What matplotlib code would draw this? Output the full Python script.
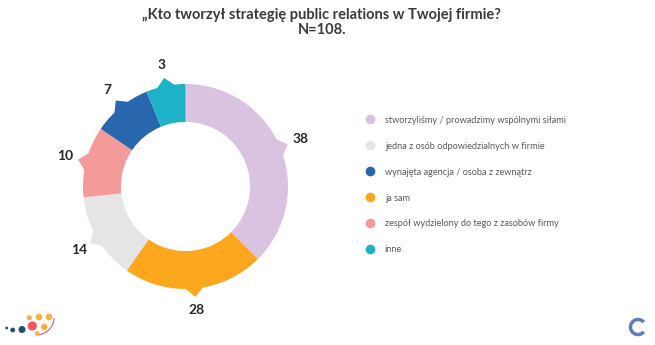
import matplotlib
matplotlib.use('Agg')
import matplotlib.pyplot as plt
from matplotlib.patches import Polygon, Circle, Arc
from matplotlib.lines import Line2D
import numpy as np

plt.rcParams['font.family'] = ['Lato', 'DejaVu Sans']

# Data (clockwise from 12 o'clock)
categories = ['stworzyliśmy / prowadzimy wspólnymi siłami',
              'ja sam',
              'jedna z osób odpowiedzialnych w firmie',
              'zespół wydzielony do tego z zasobów firmy',
              'wynajęta agencja / osoba z zewnątrz',
              'inne']
values = [38, 28, 14, 10, 7, 3]
# wedge sizes as drawn in the reference (% of the ring)
shares = [37.5, 22.2, 13.6, 11.2, 9.3, 6.2]
colors = ['#D9C3E0', '#FCA71E', '#E5E5E5', '#F49A9B', '#2866AE', '#1EB2C8']
legend_order = [0, 2, 4, 1, 3, 5]

W, H = 655, 345
fig = plt.figure(figsize=(W / 100, H / 100), dpi=100)

# title
fig.text(322 / W, 1 - 15 / H, '„Kto tworzył strategię public relations w Twojej firmie?',
         ha='center', va='center', fontsize=10.5, fontweight='bold', color='#3a3a3a')
fig.text(322 / W, 1 - 30 / H, 'N=108.',
         ha='center', va='center', fontsize=10.5, fontweight='bold', color='#3a3a3a')

# donut, centre at (185.5, 186.5) px, outer radius 102.5 px
cx, cy, R = 185.5, 186.5, 102.5
half = 130
lim = half / R
ax = fig.add_axes([(cx - half) / W, (H - cy - half) / H, 2 * half / W, 2 * half / H])
wedges, _ = ax.pie(shares, colors=colors, startangle=90, counterclock=False,
                   wedgeprops=dict(width=0.37, linewidth=0))
ax.set_xlim(-lim, lim)
ax.set_ylim(-lim, lim)
ax.set_aspect('equal')
ax.axis('off')

# little pointers + value labels
for w, v, c in zip(wedges, values, colors):
    mid = np.deg2rad((w.theta1 + w.theta2) / 2)
    d = np.deg2rad(5.5)
    pts = [(np.cos(mid - d) * 0.99, np.sin(mid - d) * 0.99),
           (np.cos(mid) * 1.08, np.sin(mid) * 1.08),
           (np.cos(mid + d) * 0.99, np.sin(mid + d) * 0.99)]
    ax.add_patch(Polygon(pts, closed=True, facecolor=c, edgecolor='none'))
    ax.text(np.cos(mid) * 1.21, np.sin(mid) * 1.21, str(v), ha='center', va='center',
            fontsize=10, fontweight='bold', color='#262626')

# legend
handles = [Line2D([], [], marker='o', linestyle='none', markersize=7,
                  markerfacecolor=colors[i], markeredgecolor='none') for i in legend_order]
labels = [categories[i] for i in legend_order]
fig.legend(handles, labels, loc='upper left', bbox_to_anchor=(362 / W, 1 - 112 / H),
           frameon=False, fontsize=6.6, labelcolor='#595959', labelspacing=1.85,
           handletextpad=1.1, handlelength=1.0, borderaxespad=0)

# logos (decorative)
lg = fig.add_axes([0, 0, 1, 1], zorder=-1)
lg.set_xlim(0, W)
lg.set_ylim(H, 0)
lg.axis('off')
for x, y, r, c in [(6.7, 328, 1.4, '#1F4E79'), (12.7, 330, 2.4, '#1F4E79'),
                   (22, 329.5, 3.5, '#1F4E79'), (32.3, 326, 4.6, '#EE5A5E'),
                   (29.3, 317.7, 2.5, '#FBB040'), (39, 317, 3.3, '#FBB040'),
                   (49, 317, 3.3, '#FBB040'), (44.3, 327, 3.3, '#FBB040'),
                   (37.3, 333.5, 2.3, '#FBB040')]:
    lg.add_patch(Circle((x, y), r, facecolor=c, edgecolor='none'))
lg.add_patch(Arc((36, 318), 36, 34, theta1=0, theta2=80, color='#EE5A5E', lw=0.8))
lg.add_patch(Arc((638, 327), 15, 15, theta1=40, theta2=320, color='#5B7DB8', lw=2.5))

fig.savefig('out.png', dpi=100)
